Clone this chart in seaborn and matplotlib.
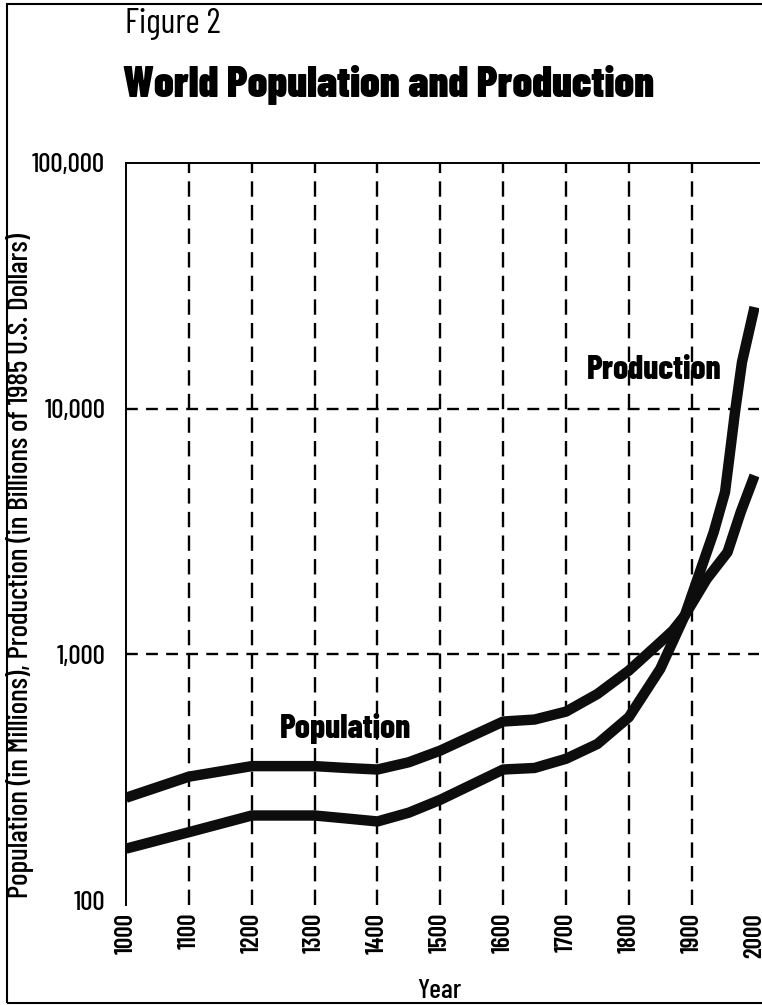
import seaborn as sns
import pandas as pd
from matplotlib import pyplot as plt
from matplotlib.patches import Rectangle

# values (log scale)
pop_years = [1000, 1100, 1200, 1300, 1350, 1400, 1450, 1500, 1600, 1650, 1700, 1750, 1800, 1850, 1870, 1889, 1924, 1957, 1978, 2000]
population = [261, 318, 351, 351, 345, 340, 364, 406, 533, 543, 585, 690, 859, 1121, 1250, 1439, 2028, 2605, 3793, 5345]

prod_years = [1000, 1100, 1200, 1300, 1350, 1400, 1450, 1500, 1600, 1650, 1700, 1750, 1800, 1850, 1889, 1913, 1935, 1953, 1961, 1969, 1980, 2000]
production = [162, 189, 221, 221, 215, 209, 227, 256, 340, 345, 376, 432, 555, 873, 1439, 2163, 3143, 4570, 6650, 9730, 15450, 25880]

year_ticks = list(range(1000, 2001, 100))
grid_years = list(range(1100, 2000, 100))
y_ticks = [100, 1000, 10000, 100000]
y_labels = ["100", "1,000", "10,000", "100,000"]

sns.set_style("white")
plt.rcParams["font.family"] = ["Barlow Condensed", "DejaVu Sans"]
plt.rcParams["text.color"] = "black"
plt.rcParams["xtick.color"] = "black"
plt.rcParams["ytick.color"] = "black"

df = pd.concat([
    pd.DataFrame({"year": pop_years, "value": population, "series": "Population"}),
    pd.DataFrame({"year": prod_years, "value": production, "series": "Production"}),
])

fig = plt.figure(figsize=(7.62, 10.05), dpi=100)
ax = fig.add_axes([0.1654, 0.100, 0.8306, 0.738])

for yr in grid_years:
    ax.axvline(yr, color="black", lw=1.7, ls=(0, (6.5, 3.5)), zorder=1)
for v in [1000, 10000]:
    ax.axhline(v, color="black", lw=1.7, ls=(0, (5, 3.5)), zorder=1)

sns.lineplot(data=df, x="year", y="value", hue="series",
             palette={"Population": "#0d0d0d", "Production": "#0d0d0d"},
             linewidth=7.5, legend=False, ax=ax, zorder=3,
             solid_joinstyle="round", solid_capstyle="butt")

ax.set_yscale("log")
ax.set_ylim(96, 100000)
ax.set_xlim(1000, 2007)
ax.set_yticks(y_ticks)
ax.set_yticklabels(y_labels, fontsize=19.5, fontweight=500)
ax.minorticks_off()
ax.set_xticks(year_ticks)
ax.set_xticklabels([str(y) for y in year_ticks], rotation=90, fontsize=18, fontweight=600)
ax.tick_params(axis="x", length=0, pad=6)
ax.tick_params(axis="y", length=0, pad=15)
ax.set_xlabel("")
ax.set_ylabel("")

for side in ["right", "bottom"]:
    ax.spines[side].set_visible(False)
for side in ["left", "top"]:
    ax.spines[side].set_linewidth(1.4)
    ax.spines[side].set_color("black")

ax.text(1349, 499, "Population", fontsize=24, fontweight=800, ha="center", va="center")
ax.text(1841, 14360, "Production", fontsize=24, fontweight=800, ha="center", va="center")

fig.text(0.164, 0.992, "Figure 2", fontsize=25, fontweight=400, va="top", ha="left")
fig.text(0.162, 0.935, "World Population and Production", fontsize=31, fontweight=900, va="top", ha="left")
fig.text(0.026, 0.437, "Population (in Millions), Production (in Billions of 1985 U.S. Dollars)",
         rotation=90, fontsize=21, fontweight=500, ha="center", va="center")
fig.text(0.577, 0.014, "Year", fontsize=20, fontweight=500, ha="center", va="center")

fig.patches.append(Rectangle((0.0092, 0.002), 1.2, 0.994, transform=fig.transFigure,
                             fill=False, lw=1.5, edgecolor="black"))

fig.savefig("out.png", dpi=100, facecolor="white")
